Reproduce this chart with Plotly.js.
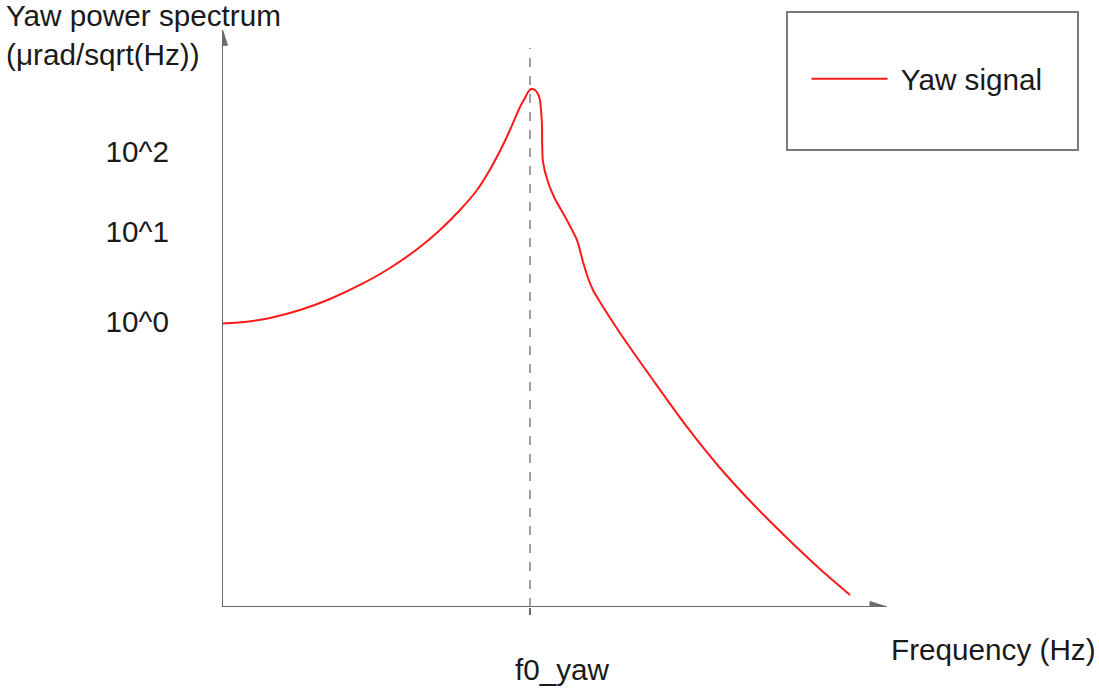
<!DOCTYPE html>
<html>
<head>
<meta charset="utf-8">
<script src="https://cdn.plot.ly/plotly-3.0.1.min.js"></script>
<style>html,body{margin:0;padding:0;background:#fff;}#chart{width:1099px;height:688px;}</style>
</head>
<body>
<div id="chart"></div>
<script>
// Frequency (arbitrary sketch units, 0..100 along the axis)
const freq = [0, 3.46, 7.22, 11.73, 16.24, 20.75, 25.26, 29.77, 32.78, 35.79, 38.35, 40.00, 41.80, 43.31, 44.81, 45.56, 46.02, 46.47, 47.07, 47.52, 47.82, 47.97, 48.12, 48.15, 48.27, 49.02, 50.08, 51.28, 52.33, 53.38, 54.29, 55.04, 55.79, 56.84, 59.85, 64.81, 69.92, 74.89, 79.85, 84.96, 89.92, 94.44];
// Yaw spectrum level (arbitrary sketch units, 0..100 along the axis)
const yawLevel = [49.13, 49.39, 50.09, 51.47, 53.38, 55.81, 58.75, 62.39, 65.34, 68.80, 72.27, 75.22, 79.03, 82.67, 86.66, 88.21, 89.25, 89.77, 89.60, 88.91, 87.87, 86.14, 83.54, 80.07, 77.12, 73.66, 70.71, 68.28, 66.03, 63.60, 59.79, 57.02, 54.94, 52.86, 47.49, 39.34, 31.20, 24.09, 17.85, 11.96, 6.59, 2.08];
const yTickVals = [49.39, 64.99, 78.86];
const yTickText = ['10^0', '10^1', '10^2'];
const f0 = 46.32;
const xTickText = ['f0_yaw'];
const seriesName = '\u00a0Yaw signal';

const FONT = 'Liberation Sans, Arial, sans-serif';
const FS = 29.7;
const TXT = '#1a1a1a';
const AX = '#6b6b6b';

const trace = {
  x: freq, y: yawLevel, type: 'scatter', mode: 'lines', name: seriesName,
  line: {color: '#ff1a1a', width: 2, shape: 'spline', smoothing: 0.8},
  hoverinfo: 'skip'
};

const layout = {
  width: 1099, height: 688,
  margin: {l: 222, r: 212, t: 30, b: 81},
  paper_bgcolor: '#ffffff', plot_bgcolor: '#ffffff',
  font: {family: FONT, size: FS, color: TXT},
  showlegend: true,
  legend: {
    x: 0.879, xanchor: 'left', y: 0.915, yanchor: 'middle',
    bgcolor: 'rgba(0,0,0,0)', borderwidth: 0,
    font: {family: FONT, size: FS, color: TXT},
    itemwidth: 76
  },
  xaxis: {
    range: [0, 100], showgrid: false, zeroline: false, showline: false,
    tickvals: [f0], ticktext: xTickText, ticks: 'outside', ticklen: 7,
    tickcolor: AX, tickwidth: 1.5,
    ticklabelshift: 32, ticklabelstandoff: 29,
    tickfont: {family: FONT, size: FS, color: TXT},
    fixedrange: true
  },
  yaxis: {
    range: [0, 100], showgrid: false, zeroline: false, showline: false,
    tickvals: yTickVals, ticktext: yTickText, ticks: '',
    ticklabelstandoff: 52,
    tickfont: {family: FONT, size: FS, color: TXT},
    fixedrange: true
  },
  shapes: [
    // x axis line
    {type: 'line', xref: 'x', yref: 'y', x0: 0, y0: 0, x1: 98, y1: 0, line: {color: AX, width: 2}},
    // y axis line
    {type: 'line', xref: 'x', yref: 'y', x0: 0, y0: 0, x1: 0, y1: 98, line: {color: AX, width: 2}},
    // arrowheads
    {type: 'path', xref: 'x', yref: 'y', xsizemode: 'pixel', ysizemode: 'pixel', xanchor: 100, yanchor: 0,
     path: 'M-17,-5.5 L0,0 L-17,5.5 Z', fillcolor: AX, line: {color: AX, width: 1}},
    {type: 'path', xref: 'x', yref: 'y', xsizemode: 'pixel', ysizemode: 'pixel', xanchor: 0, yanchor: 100.3,
     path: 'M-5.5,-17 L0,0 L5.5,-17 Z', fillcolor: AX, line: {color: AX, width: 1}},
    // f0 dashed line
    {type: 'line', xref: 'x', yref: 'y', x0: f0, x1: f0, y0: 0, y1: 96.9, line: {color: '#808080', width: 1.5, dash: 'dash'}},
    // legend box
    {type: 'rect', xref: 'paper', yref: 'paper', x0: 0.8496, x1: 1.2872, y0: 0.7920, y1: 1.0312,
     line: {color: '#7a7a7a', width: 2}, fillcolor: 'rgba(0,0,0,0)'}
  ],
  annotations: [
    {xref: 'paper', yref: 'paper', x: -0.3278, y: 1.057, xanchor: 'left', yanchor: 'top', align: 'left',
     text: 'Yaw power spectrum<br>(μrad/sqrt(Hz))', showarrow: false, font: {family: FONT, size: FS, color: TXT}},
    {xref: 'paper', yref: 'paper', x: 1.003, y: -0.0745, xanchor: 'left', yanchor: 'middle',
     text: 'Frequency (Hz)', showarrow: false, font: {family: FONT, size: FS, color: TXT}}
  ]
};

Plotly.newPlot('chart', [trace], layout, {displayModeBar: false, staticPlot: true});
</script>
</body>
</html>
